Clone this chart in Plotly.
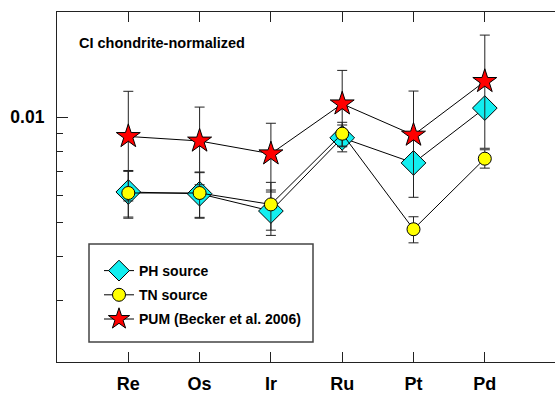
import math
import plotly.graph_objects as go

# Chondrite-normalized HSE abundances
elements = ["Re", "Os", "Ir", "Ru", "Pt", "Pd"]

ph_source = [0.00612, 0.00605, 0.00540, 0.00874, 0.00741, 0.01063]
ph_err = [0.00093, 0.00090, 0.00080, 0.00077, 0.0, 0.0]

tn_source = [0.00608, 0.00608, 0.00564, 0.00898, 0.00479, 0.00762]
tn_err = [0.00093, 0.00090, 0.00088, 0.00070, 0.00041, 0.00046]

pum = [0.00882, 0.00856, 0.00787, 0.01093, 0.00890, 0.01267]
pum_err = [0.00305, 0.00214, 0.00175, 0.00269, 0.00299, 0.00451]

y_min, y_max = 0.002, 0.02
major_ticks = [0.01]
minor_ticks = [0.003, 0.004, 0.005, 0.006, 0.007, 0.008, 0.009]

FONT = "Liberation Sans, Arial, sans-serif"
W, H = 555, 395
ML, MR, MT, MB = 57, 0, 12, 33
PW, PH = W - ML - MR, H - MT - MB

xpos = list(range(len(elements)))
yrange = [math.log10(y_min), math.log10(y_max)]
px_per_cat = 71.3
x_right = -1 + PW / px_per_cat


def px_x(p):
    return (p - ML) / PW


def px_y(p):
    return 1 - (p - MT) / PH


def err(vals):
    return dict(type="data", array=vals, visible=True, color="#222222",
                thickness=1, width=5)


fig = go.Figure()

fig.add_trace(go.Scatter(
    x=xpos, y=ph_source, name="PH source", mode="lines+markers",
    line=dict(color="black", width=1),
    marker=dict(symbol="diamond", size=19, color="#12EEF0",
                line=dict(color="black", width=1)),
    error_y=err(ph_err), legendrank=1, legendgroup="ph",
))
fig.add_trace(go.Scatter(
    x=xpos, y=pum, name="PUM (Becker et al. 2006)", mode="lines+markers",
    line=dict(color="black", width=1),
    marker=dict(symbol="star", size=18, color="#FF0000",
                line=dict(color="black", width=1)),
    error_y=err(pum_err), legendrank=3, legendgroup="pum",
))
fig.add_trace(go.Scatter(
    x=xpos, y=tn_source, name="TN source", mode="lines+markers",
    line=dict(color="black", width=1),
    marker=dict(symbol="circle", size=13, color="#FFFF00",
                line=dict(color="black", width=1)),
    error_y=err(tn_err), legendrank=2, legendgroup="tn",
))

fig.update_layout(
    width=W, height=H,
    margin=dict(l=ML, r=MR, t=MT, b=MB, pad=0, autoexpand=False),
    paper_bgcolor="white", plot_bgcolor="white",
    font=dict(family=FONT, color="black"),
    showlegend=True,
    legend=dict(
        xref="paper", yref="paper",
        x=px_x(99), y=px_y(255), xanchor="left", yanchor="top",
        bgcolor="rgba(0,0,0,0)", borderwidth=0,
        font=dict(family=FONT, size=14, weight="bold", color="black"),
        traceorder="grouped", tracegroupgap=3, itemsizing="trace",
    ),
    xaxis=dict(
        range=[-1, x_right], tickmode="array", tickvals=xpos, ticktext=elements,
        showline=True, linecolor="#222222", linewidth=1.2, mirror="ticks",
        ticks="inside", ticklen=10, tickcolor="#222222", tickwidth=1,
        showgrid=False, zeroline=False,
        tickfont=dict(family=FONT, size=18, weight="bold"),
        ticklabelstandoff=5,
    ),
    yaxis=dict(
        type="log", range=yrange, tickmode="array", tickvals=major_ticks,
        ticktext=["0.01"],
        showline=True, linecolor="#222222", linewidth=1.2,
        ticks="inside", ticklen=11, tickcolor="#222222", tickwidth=1,
        minor=dict(tickmode="array", tickvals=minor_ticks, ticks="inside",
                   ticklen=6, tickcolor="#222222", tickwidth=1, showgrid=False),
        showgrid=False, zeroline=False,
        tickfont=dict(family=FONT, size=17.5, weight="bold"),
        ticklabelstandoff=8,
    ),
    yaxis2=dict(
        type="log", range=yrange, overlaying="y", side="right",
        tickmode="array", tickvals=major_ticks, showticklabels=False,
        showline=False, ticks="inside", ticklen=8, tickcolor="#222222",
        tickwidth=1,
        minor=dict(tickmode="array", tickvals=minor_ticks, ticks="inside",
                   ticklen=4, tickcolor="#222222", tickwidth=1, showgrid=False),
        showgrid=False, zeroline=False,
    ),
    shapes=[dict(
        type="rect", xref="paper", yref="paper",
        x0=px_x(89), x1=px_x(313), y0=px_y(342), y1=px_y(244),
        line=dict(color="#444444", width=1.5), fillcolor="white", layer="below",
    )],
    annotations=[dict(
        text="CI chondrite-normalized", xref="paper", yref="paper",
        x=px_x(77), y=px_y(43),
        xanchor="left", yanchor="middle", showarrow=False,
        font=dict(family=FONT, size=14.5, weight="bold", color="black"),
    )],
)

fig.write_html("out.html")
